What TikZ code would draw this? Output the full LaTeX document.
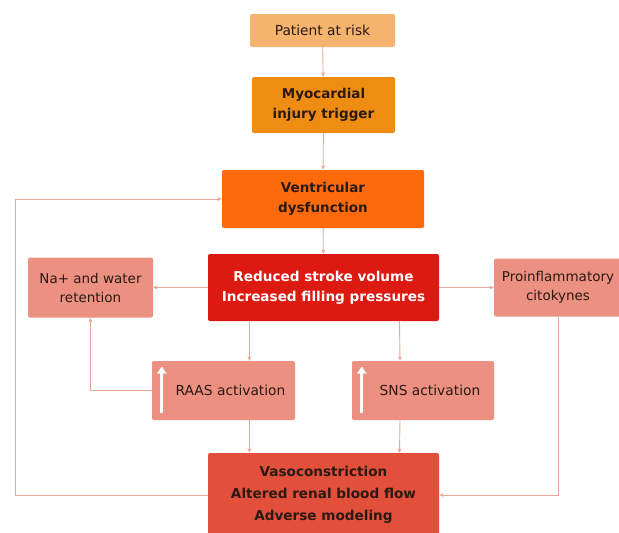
\documentclass[tikz,border=0pt]{standalone}
\usepackage{fontspec}
\setmainfont{DejaVu Sans}
\usetikzlibrary{arrows.meta,calc}
\definecolor{cpat}{HTML}{F5B46E}
\definecolor{cmyo}{HTML}{EF8C12}
\definecolor{cven}{HTML}{FD6A0C}
\definecolor{cred}{HTML}{DD1A12}
\definecolor{cside}{HTML}{EC9082}
\definecolor{cvaso}{HTML}{E2503C}
\definecolor{cline}{HTML}{E9A596}
\definecolor{ctext}{HTML}{2B1A12}
\tikzset{
  box/.style={rectangle, rounded corners=2pt, align=center, inner sep=0pt, text=ctext},
  conn/.style={draw=cline, line width=0.9pt, -{Stealth[length=4.5pt,width=4pt]}},
  uparrow/.style={draw=white, line width=3pt, -{Triangle[length=7pt,width=9pt]}}
}
\begin{document}
\begin{tikzpicture}[x=1pt,y=-1pt]
\useasboundingbox (0,0) rectangle (619,533);
\node[box, fill=cpat, minimum width=145pt, minimum height=33pt, font=\fontsize{13.8}{16}\selectfont] (pat) at (322.5,30.5) {Patient at risk};
\node[box, fill=cmyo, minimum width=143pt, minimum height=56pt, font=\bfseries\fontsize{13.5}{20}\selectfont] (myo) at (323.5,105) {Myocardial\\injury trigger};
\node[box, fill=cven, minimum width=202pt, minimum height=58pt, font=\bfseries\fontsize{13.5}{20}\selectfont] (ven) at (323,199) {Ventricular\\dysfunction};
\node[box, fill=cred, text=white, minimum width=231pt, minimum height=67pt, font=\bfseries\fontsize{13.6}{20}\selectfont] (red) at (323.5,287.5) {Reduced stroke volume\\Increased filling pressures};
\node[box, fill=cside, minimum width=125pt, minimum height=60pt, font=\fontsize{13.5}{19}\selectfont] (na) at (90.5,287.5) {Na+ and water\\retention};
\node[box, fill=cside, minimum width=128pt, minimum height=58pt, font=\fontsize{13.5}{19}\selectfont] (pro) at (558,287.5) {Proinflammatory\\citokynes};
\node[box, fill=cside, minimum width=143pt, minimum height=59pt, font=\fontsize{13.8}{16}\selectfont] (raas) at (223.5,390.5) {\hspace{14pt}RAAS activation};
\node[box, fill=cside, minimum width=142pt, minimum height=59pt, font=\fontsize{13.8}{16}\selectfont] (sns) at (423,390.5) {\hspace{14pt}SNS activation};
\node[box, fill=cvaso, minimum width=231pt, minimum height=84pt, font=\bfseries\fontsize{13.6}{22}\selectfont] (vaso) at (323.5,495) {Vasoconstriction\\Altered renal blood flow\\Adverse modeling};
\draw[uparrow] ($(raas.west)+(10,22)$) -- ($(raas.west)+(10,-24)$);
\draw[uparrow] ($(sns.west)+(10,22)$) -- ($(sns.west)+(10,-24)$);
\draw[conn] (pat) -- (myo);
\draw[conn] (myo) -- (ven);
\draw[conn] (ven) -- (red);
\draw[conn] (red) -- (na);
\draw[conn] (red) -- (pro);
\draw[conn] ($(red.south)+(-74,0)$) -- ($(raas.north)+(26,0)$);
\draw[conn] ($(red.south)+(76,0)$) -- ($(sns.north)+(-23,0)$);
\draw[conn] ($(raas.south)+(26,0)$) -- ($(vaso.north)+(-74,0)$);
\draw[conn] ($(sns.south)+(-23,0)$) -- ($(vaso.north)+(76,0)$);
\draw[conn] (raas.west) -| (na.south);
\draw[conn] (pro.south) -- (pro.south |- vaso.east) -- (vaso.east);
\draw[conn] (vaso.west) -- (15,495) -- (15,199) -- (ven.west);
\end{tikzpicture}
\end{document}
